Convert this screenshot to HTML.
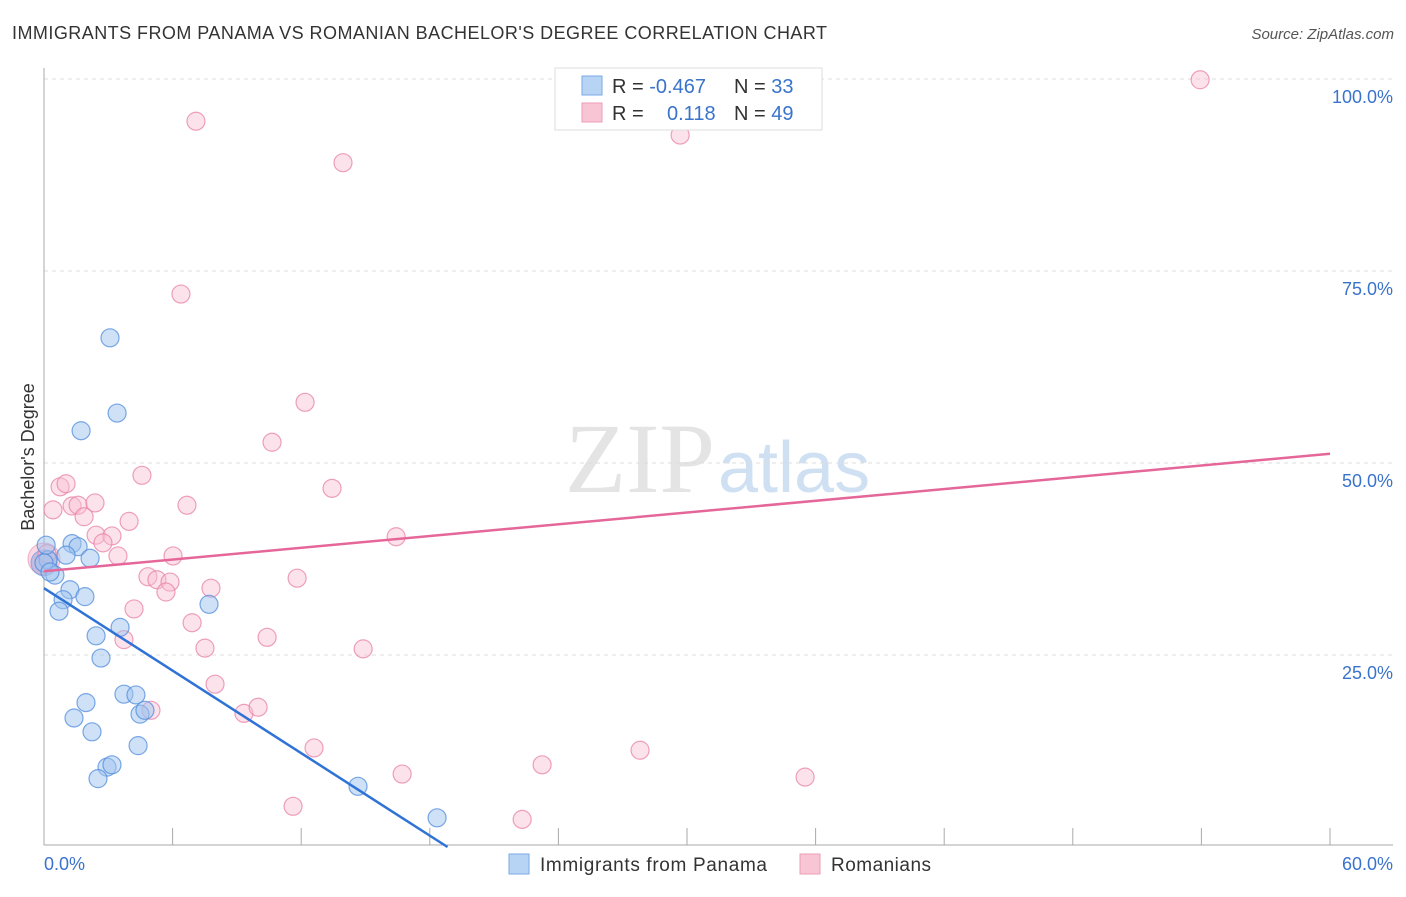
<!DOCTYPE html>
<html><head><meta charset="utf-8"><style>
body{margin:0;background:#fff;font-family:"Liberation Sans",sans-serif}
</style></head><body>
<svg id="chart" width="1406" height="892" xmlns="http://www.w3.org/2000/svg">
<text x="12" y="39" font-size="18" fill="#333" textLength="815" lengthAdjust="spacing">IMMIGRANTS FROM PANAMA VS ROMANIAN BACHELOR'S DEGREE CORRELATION CHART</text>
<text x="1394" y="39" font-size="15" fill="#555" font-style="italic" text-anchor="end">Source: ZipAtlas.com</text>
<text x="715" y="492" font-size="100" fill="#e4e4e4" text-anchor="end" font-family="Liberation Serif">ZIP</text>
<text x="718" y="492" font-size="72" fill="#cfe0f3">atlas</text>
<g id="grid"></g><g id="axes"></g><g id="marks"></g>
<text transform="translate(34,457) rotate(-90)" font-size="18" fill="#333" text-anchor="middle">Bachelor's Degree</text>
<g>
<rect x="555" y="68" width="267" height="62" fill="#fff" stroke="#ddd"/>
<rect x="582" y="76" width="20" height="19" fill="#b8d4f5" stroke="#7aaae6"/>
<rect x="582" y="103" width="20" height="19" fill="#f8c5d4" stroke="#ec9db5"/>
<text x="612" y="93" font-size="20" fill="#333">R = <tspan fill="#3a73cc">-0.467</tspan></text>
<text x="734" y="93" font-size="20" fill="#333">N = <tspan fill="#3a73cc">33</tspan></text>
<text x="612" y="120" font-size="20" fill="#333">R = </text>
<text x="667" y="120" font-size="20" fill="#3a73cc">0.118</text>
<text x="734" y="120" font-size="20" fill="#333">N = <tspan fill="#3a73cc">49</tspan></text>
</g>
<g>
<rect x="509" y="854" width="20" height="20" fill="#b8d4f5" stroke="#7aaae6"/>
<text x="540" y="871" font-size="19" fill="#333" textLength="227" lengthAdjust="spacing">Immigrants from Panama</text>
<rect x="800" y="854" width="20" height="20" fill="#f8c5d4" stroke="#ec9db5"/>
<text x="831" y="871" font-size="19" fill="#333" textLength="100" lengthAdjust="spacing">Romanians</text>
</g>
</svg>
<script>
const blueX=[3.08,3.41,1.73,1.31,1.59,2.15,1.03,0.19,0.51,1.21,1.91,0.89,0.70,7.70,2.43,3.55,2.66,3.73,4.29,1.96,1.40,4.48,4.71,2.24,4.39,2.94,3.17,2.52,14.65,18.34,0.1,0.0,0.28];
const blueY=[66.3,56.5,54.2,39.5,39.1,37.6,38.0,37.4,35.4,33.5,32.6,32.2,30.7,31.6,27.5,28.6,24.6,19.9,19.8,18.8,16.8,17.3,17.8,15.0,13.2,10.4,10.7,8.9,7.9,3.8,39.3,37.0,35.8];
const pinkX=[53.94,7.09,13.95,29.68,6.39,12.18,10.64,4.57,13.44,0.75,1.03,0.42,1.31,1.59,2.38,1.87,3.97,6.67,2.43,3.17,2.75,3.45,16.43,0.14,4.85,5.27,5.88,5.69,6.02,7.79,11.81,4.20,6.91,3.73,7.51,10.41,14.89,7.98,9.33,9.99,4.99,12.60,16.71,11.62,23.24,27.81,35.51,22.31];
const pinkY=[99.9,94.5,89.1,92.7,72.0,57.9,52.7,48.4,46.7,46.9,47.3,43.9,44.4,44.5,44.8,43.0,42.4,44.5,40.6,40.5,39.6,37.9,40.4,38.2,35.2,34.8,34.5,33.2,37.9,33.7,35.0,31.0,29.2,27.0,25.9,27.3,25.8,21.2,17.4,18.2,17.8,12.9,9.5,5.3,10.7,12.6,9.1,3.6];
const blueTrend=[33.7,-1.79];
const pinkTrend=[35.9,0.255];
const yTicks=[25,50,75,100];
const yTickLabels=["25.0%","50.0%","75.0%","100.0%"];
const xTicks=[0,6,12,18,24,30,36,42,48,54,60];
const xEndLabels=["0.0%","60.0%"];
const NS="http://www.w3.org/2000/svg";
const sx=v=>44+v/60*1286, sy=v=>847-v*7.68;
function mk(tag,attrs,parent){const e=document.createElementNS(NS,tag);for(const k in attrs)e.setAttribute(k,attrs[k]);document.getElementById(parent).appendChild(e);return e;}
yTicks.forEach((t,i)=>{
 const l=mk('line',{x1:44,x2:1393,y1:sy(t),y2:sy(t),stroke:'#ddd','stroke-dasharray':'4,4'},'grid');
 
 
 const tx=mk('text',{x:1393,y:sy(t)+24,'font-size':18,fill:'#3a73cc','text-anchor':'end'},'grid');
 tx.textContent=yTickLabels[i];
 
 
});
const ax=mk('line',{x1:44,x2:44,y1:68,y2:845,stroke:'#aaa'},'axes');


const bx=mk('line',{x1:44,x2:1393,y1:845,y2:845,stroke:'#aaa'},'axes');


xTicks.forEach(t=>{
 const l=mk('line',{x1:sx(t),x2:sx(t),y1:828,y2:845,stroke:'#aaa'},'axes');
 
 
});
const xl0=mk('text',{x:44,y:870,'font-size':18,fill:'#3a73cc'},'axes');xl0.textContent=xEndLabels[0];


const xl1=mk('text',{x:1393,y:870,'font-size':18,fill:'#3a73cc','text-anchor':'end'},'axes');xl1.textContent=xEndLabels[1];


const bp=mk('circle',{cx:sx(0),cy:sy(37.5),r:16,fill:'rgba(244,170,195,0.45)',stroke:'rgba(232,130,165,0.6)'},'marks');


const bb=mk('circle',{cx:sx(0),cy:sy(37.0),r:13,fill:'rgba(140,160,220,0.5)',stroke:'rgba(90,140,220,0.6)'},'marks');


pinkX.forEach((x,i)=>{
 const c=mk('circle',{cx:sx(x),cy:sy(pinkY[i]),r:9,fill:'rgba(248,190,210,0.45)',stroke:'rgba(232,130,165,0.75)','stroke-width':1.2},'marks');
 
 
});
blueX.forEach((x,i)=>{
 const c=mk('circle',{cx:sx(x),cy:sy(blueY[i]),r:9,fill:'rgba(160,195,240,0.5)',stroke:'rgba(80,140,220,0.75)','stroke-width':1.2},'marks');
 
 
});
const pl=mk('line',{x1:sx(0),y1:sy(pinkTrend[0]),x2:sx(60),y2:sy(pinkTrend[0]+pinkTrend[1]*60),stroke:'#e5679a','stroke-width':2.5},'marks');


const xEnd=-blueTrend[0]/blueTrend[1];
const bl=mk('line',{x1:sx(0),y1:sy(blueTrend[0]),x2:sx(xEnd),y2:sy(0),stroke:'#2f73d6','stroke-width':2.5},'marks');


</script>
</body></html>
